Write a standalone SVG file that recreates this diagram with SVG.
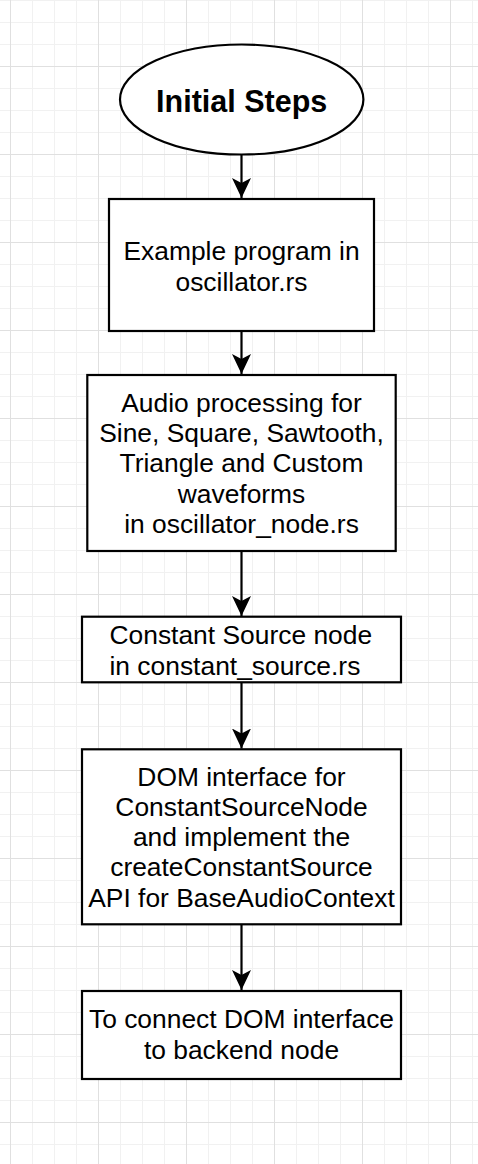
<svg xmlns="http://www.w3.org/2000/svg" width="478" height="1164" viewBox="0 0 478 1164">
  <defs>
    <pattern id="gridMinor" patternUnits="userSpaceOnUse" x="10" y="0" width="22" height="22">
      <rect x="0" y="0" width="1" height="22" fill="#f1f1f1"/>
      <rect x="0" y="0" width="22" height="1" fill="#f1f1f1"/>
    </pattern>
    <pattern id="gridMajor" patternUnits="userSpaceOnUse" x="10" y="66" width="88" height="88">
      <rect x="0" y="0" width="1" height="88" fill="#e0e0e0"/>
      <rect x="0" y="0" width="88" height="1" fill="#e0e0e0"/>
    </pattern>
    <marker id="arrow" markerUnits="userSpaceOnUse" markerWidth="20" markerHeight="20" viewBox="0 0 20 20" refX="20" refY="10" orient="auto">
      <path d="M20,10 L0,0.5 L5,10 L0,19.5 Z" fill="#000"/>
    </marker>
    <style>
      .shape { fill: #ffffff; stroke: #000000; stroke-width: 2.2; }
      .label { font-family: "Liberation Sans", Arial, Helvetica, sans-serif; font-size: 26.4px; fill: #000000; text-anchor: middle; }
      .title { font-family: "Liberation Sans", Arial, Helvetica, sans-serif; font-size: 30.5px; font-weight: bold; fill: #000000; text-anchor: middle; }
      .edge { fill: none; stroke: #000000; stroke-width: 2.2; marker-end: url(#arrow); }
    </style>
  </defs>

  <rect x="0" y="0" width="478" height="1164" fill="#ffffff"/>
  <rect x="0" y="0" width="478" height="1164" fill="url(#gridMinor)"/>
  <rect x="0" y="0" width="478" height="1164" fill="url(#gridMajor)"/>

  <g id="connectors">
    <path class="edge" d="M241.5,154.5 L241.5,198"/>
    <path class="edge" d="M241.5,331 L241.5,374"/>
    <path class="edge" d="M241.5,551 L241.5,616"/>
    <path class="edge" d="M241.5,682.3 L241.5,748.5"/>
    <path class="edge" d="M241.5,924.3 L241.5,990"/>
  </g>

  <g id="initial-steps">
    <ellipse class="shape" cx="241.7" cy="99.5" rx="121.7" ry="55"/>
    <text class="title" x="241.7" y="112">Initial Steps</text>
  </g>

  <g id="example-program">
    <rect class="shape" x="109" y="199" width="265" height="132"/>
    <text class="label" x="241.5" y="260">Example program in</text>
    <text class="label" x="241.5" y="290.5">oscillator.rs</text>
  </g>

  <g id="audio-processing">
    <rect class="shape" x="87.3" y="375" width="308.4" height="176"/>
    <text class="label" x="241.5" y="411.5">Audio processing for</text>
    <text class="label" x="241.5" y="441.9">Sine, Square, Sawtooth,</text>
    <text class="label" x="241.5" y="472.3">Triangle and Custom</text>
    <text class="label" x="241.5" y="502.7">waveforms</text>
    <text class="label" x="241.5" y="533.1">in oscillator_node.rs</text>
  </g>

  <g id="constant-source">
    <rect class="shape" x="82" y="616.7" width="319" height="65.6"/>
    <text class="label" x="109.5" y="644.3" style="text-anchor:start">Constant Source node</text>
    <text class="label" x="109.5" y="675" style="text-anchor:start">in constant_source.rs</text>
  </g>

  <g id="dom-interface">
    <rect class="shape" x="82" y="749.3" width="319" height="175"/>
    <text class="label" x="241.5" y="785.5">DOM interface for</text>
    <text class="label" x="241.5" y="815.8">ConstantSourceNode</text>
    <text class="label" x="241.5" y="846.1">and implement the</text>
    <text class="label" x="241.5" y="876.4">createConstantSource</text>
    <text class="label" x="241.5" y="906.7">API for BaseAudioContext</text>
  </g>

  <g id="connect-backend">
    <rect class="shape" x="82" y="991" width="319" height="88"/>
    <text class="label" x="241.5" y="1028.3">To connect DOM interface</text>
    <text class="label" x="241.5" y="1059.3">to backend node</text>
  </g>
</svg>
